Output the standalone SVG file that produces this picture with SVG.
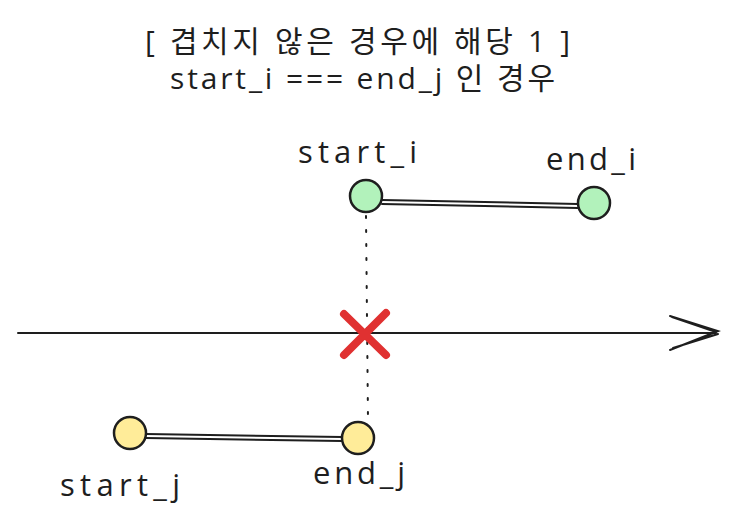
<svg xmlns="http://www.w3.org/2000/svg" width="736" height="527" viewBox="0 0 736 527">
<style>
.t{font-family:"Open Sans","Noto Sans CJK KR",sans-serif;fill:#1e1e1e;font-size:30px}
.lbl{font-family:"Open Sans","Noto Sans CJK KR",sans-serif;fill:#1e1e1e;font-size:31px}
.ln{stroke:#1e1e1e;stroke-width:2;fill:none;stroke-linecap:round}
.gc{fill:#b2f2bb;stroke:#1e1e1e;stroke-width:2.5}
.yc{fill:#ffec99;stroke:#1e1e1e;stroke-width:2.5}
</style>
<rect width="736" height="527" fill="#ffffff"/>
<g id="title">
<text class="t" x="145" y="52" textLength="425" lengthAdjust="spacing">[ 겹치지 않은 경우에 해당  1 ]</text>
<text class="t" x="170" y="89" textLength="385" lengthAdjust="spacing">start_i === end_j 인 경우</text>
</g>
<g id="connectors">
<path class="ln" d="M382 200 L578 204 M382 204 L578 208"/>
<path class="ln" d="M146 434 L342 437 M146 438 L342 441"/>
<path class="ln" d="M366 216 L368 420" stroke-dasharray="2 12" stroke-width="2.5"/>
<path class="ln" d="M18 333 L716 333" stroke-width="2.5"/>
<path class="ln" d="M670 316 L718 331 L670 350 M672 317 L716 332 M718 334 L673 348"/>
</g>
<g id="start_i">
<circle class="gc" cx="366" cy="196" r="16"/>
<text class="lbl" x="298" y="163" textLength="119" lengthAdjust="spacing">start_i</text>
</g>
<g id="end_i">
<circle class="gc" cx="594" cy="203" r="16"/>
<text class="lbl" x="546" y="170" textLength="90" lengthAdjust="spacing">end_i</text>
</g>
<g id="start_j">
<circle class="yc" cx="130" cy="433" r="16"/>
<text class="lbl" x="60" y="496" textLength="120" lengthAdjust="spacing">start_j</text>
</g>
<g id="end_j">
<circle class="yc" cx="358" cy="438" r="16"/>
<text class="lbl" x="313" y="484" textLength="92" lengthAdjust="spacing">end_j</text>
</g>
<g id="cross">
<path d="M344 314 L386 355 M386 313 L344 355" stroke="#e03131" stroke-width="8" stroke-linecap="round" fill="none"/>
</g>
</svg>
